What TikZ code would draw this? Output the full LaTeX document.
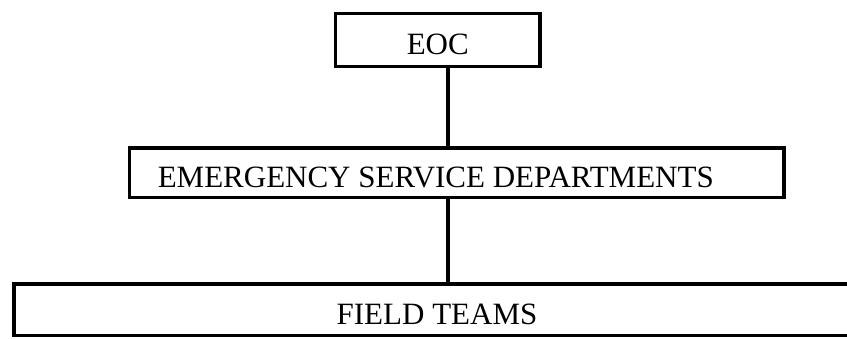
\documentclass[tikz,border=0pt]{standalone}
\usepackage{fontspec}
\setmainfont{Liberation Serif}
\begin{document}
\begin{tikzpicture}[x=1pt, y=-1pt,
	box/.style = {draw, line width=3.5pt, rectangle, inner sep=0pt, text height=30pt,
		font=\fontsize{31pt}{36pt}\selectfont},
	link/.style = {line width=3.5pt}]
	\clip (0,0) rectangle (847,338);
	\node [box, minimum width=204.5, minimum height=53] (eoc) at (437.75,40) {EOC};
	\node [box, minimum width=654.5, minimum height=49.5,
		label={[box, draw=none, xshift=-21pt]center:EMERGENCY SERVICE DEPARTMENTS}] (esd) at (456.75,172.75) {};
	\node [box, minimum width=846, minimum height=51.5] (ft) at (437,309.75) {FIELD TEAMS};
	% single trunk line down through the levels
	\coordinate (trunk) at (448,0);
	\draw [link] (eoc.south -| trunk) -- (esd.north -| trunk);
	\draw [link] (esd.south -| trunk) -- (ft.north -| trunk);
\end{tikzpicture}
\end{document}
